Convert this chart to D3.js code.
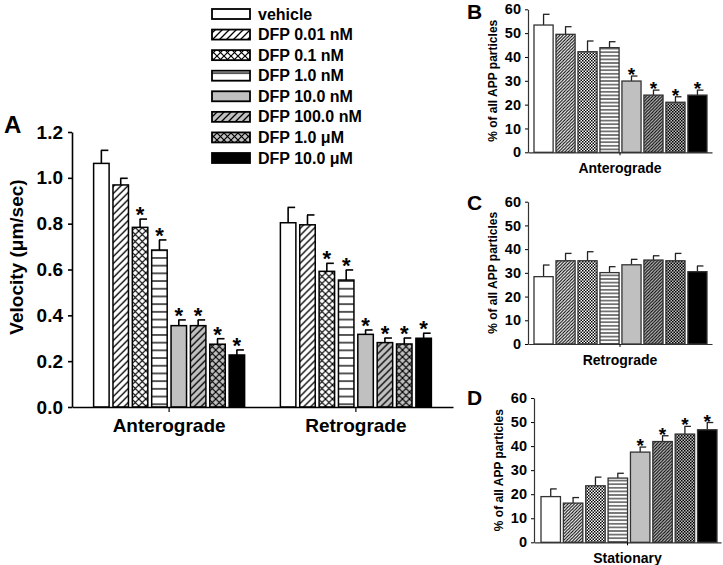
<!DOCTYPE html>
<html><head><meta charset="utf-8">
<script src="https://cdn.jsdelivr.net/npm/d3@7"></script>
<style>body{margin:0;background:#fff}svg{display:block}text{font-family:Arial,"Liberation Sans",sans-serif;font-weight:bold}</style>
</head><body><svg id="c" width="723" height="565"></svg>
<script>
const conditions = ["vehicle","DFP 0.01 nM","DFP 0.1 nM","DFP 1.0 nM","DFP 10.0 nM","DFP 100.0 nM","DFP 1.0 \u03bcM","DFP 10.0 \u03bcM"];
const groupsA = ["Anterograde","Retrograde"];
const velAntero = [1.063,0.969,0.784,0.685,0.355,0.355,0.274,0.227];
const velAnteroErr = [0.057,0.029,0.036,0.044,0.025,0.025,0.024,0.022];
const velRetro = [0.804,0.795,0.592,0.554,0.317,0.281,0.275,0.300];
const velRetroErr = [0.067,0.043,0.035,0.044,0.019,0.020,0.026,0.022];
const sigAntero = [0,0,1,1,1,1,1,1];
const sigRetro = [0,0,1,1,1,1,1,1];
const ticksA = [0,0.2,0.4,0.6,0.8,1.0,1.2];
const pctAntero = [53.4,49.5,42.2,43.9,29.9,24.0,21.0,24.0];
const pctAnteroErr = [4.5,3.2,4.5,2.5,2.1,2.1,2.3,2.1];
const sigB = [0,0,0,0,1,1,1,1];
const pctRetro = [28.4,35.1,35.1,30.1,33.4,35.4,35.1,30.5];
const pctRetroErr = [4.9,3.1,3.8,2.5,2.3,1.8,3.1,2.4];
const sigC = [0,0,0,0,0,0,0,0];
const pctStat = [19.0,16.3,23.5,26.7,37.5,41.9,45.0,46.8];
const pctStatErr = [3.2,2.3,3.6,2.0,2.1,2.4,3.2,3.0];
const sigD = [0,0,0,0,1,1,1,1];
const ticksPct = [0,10,20,30,40,50,60];

const svg = d3.select("#c");
const defs = svg.append("defs");
const GRAY = "#c0c0c0";

function pat(id, size, bg, draw){
  const p = defs.append("pattern").attr("id",id).attr("patternUnits","userSpaceOnUse")
    .attr("width",size).attr("height",size);
  p.append("rect").attr("width",size).attr("height",size).attr("fill",bg);
  draw(p, size);
}
function diag(p,s,w){ p.append("path").attr("d",`M0,${s} L${s},0 M${-s/2},${s/2} L${s/2},${-s/2} M${s/2},${s*1.5} L${s*1.5},${s/2}`).attr("stroke","#000").attr("stroke-width",w); }
function cross(p,s,w){ p.append("path").attr("d",`M0,${s} L${s},0 M0,0 L${s},${s}`).attr("stroke","#000").attr("stroke-width",w); }
function horiz(p,s,w){ p.append("path").attr("d",`M0,${s/2} L${s},${s/2}`).attr("stroke","#000").attr("stroke-width",w); }
function dots(p,s){ p.append("rect").attr("x",0).attr("y",0).attr("width",s/2).attr("height",s/2).attr("fill","#000");
  p.append("rect").attr("x",s/2).attr("y",s/2).attr("width",s/2).attr("height",s/2).attr("fill","#000"); }

pat("Ldiag",7,"#fff",(p,s)=>diag(p,s,1.3));
pat("Lcross",7,"#fff",(p,s)=>cross(p,s,1.2));
pat("Lhoriz",7.7,"#fff",(p,s)=>horiz(p,s,1.3));
pat("LdiagG",7,GRAY,(p,s)=>diag(p,s,1.3));
pat("LcrossG",7,GRAY,(p,s)=>cross(p,s,1.2));
pat("Sdiag",3.2,"#fff",(p,s)=>diag(p,s,1));
pat("Sdots",3,"#fff",(p,s)=>dots(p,s));
pat("Shoriz",3.6,"#fff",(p,s)=>horiz(p,s,1));
pat("SdiagG",3.2,GRAY,(p,s)=>diag(p,s,1));
pat("SdotsG",3,GRAY,(p,s)=>dots(p,s));

const fillsL = ["#fff","url(#Ldiag)","url(#Lcross)","url(#Lhoriz)",GRAY,"url(#LdiagG)","url(#LcrossG)","#000"];
const fillsS = ["#fff","url(#Sdiag)","url(#Sdots)","url(#Shoriz)",GRAY,"url(#SdiagG)","url(#SdotsG)","#000"];

// ---------- Panel A ----------
const yA = d3.scaleLinear().domain([0,1.2]).range([407,132]);
const gx = d3.scaleBand().domain(groupsA).range([72,453]).paddingOuter(0.02).paddingInner(0);
const bw = gx.bandwidth();
const xin = d3.scaleBand().domain(conditions).range([(bw-151)/2,(bw+151)/2]).paddingInner(0.2);
const gA = svg.append("g");
const dataA = [
  {g:"Anterograde", v:velAntero, e:velAnteroErr, s:sigAntero},
  {g:"Retrograde", v:velRetro, e:velRetroErr, s:sigRetro}
];
dataA.forEach(d=>{
  const gg = gA.append("g").attr("transform",`translate(${gx(d.g)},0)`);
  conditions.forEach((c,i)=>{
    const x0 = xin(c), w = xin.bandwidth(), cx = x0+w/2;
    const top = yA(d.v[i]), et = yA(d.v[i]+d.e[i]);
    gg.append("line").attr("x1",cx).attr("x2",cx).attr("y1",top).attr("y2",et).attr("stroke","#000").attr("stroke-width",1.6);
    gg.append("line").attr("x1",cx-0.5).attr("x2",cx+7).attr("y1",et).attr("y2",et).attr("stroke","#000").attr("stroke-width",1.6);
    gg.append("rect").attr("x",x0).attr("y",top).attr("width",w).attr("height",yA(0)-top)
      .attr("fill",fillsL[i]).attr("stroke","#000").attr("stroke-width",1.5);
    if(d.s[i]) gg.append("text").attr("x",cx).attr("y",et+3).attr("text-anchor","middle").attr("font-size",22).text("*");
  });
});
const axA = gA.append("g").attr("transform","translate(72,0)")
  .call(d3.axisLeft(yA).tickValues(ticksA).tickFormat(d3.format(".1f")).tickSize(4).tickSizeOuter(0));
axA.select(".domain").attr("stroke-width",1.6);
axA.selectAll(".tick line").attr("stroke-width",1.6);
axA.selectAll("text").attr("font-size",19).attr("x",-9).style("font-family","Arial, 'Liberation Sans', sans-serif").style("font-weight","bold").attr("fill","#000");
const axAx = gA.append("g").attr("transform",`translate(0,${yA(0)})`)
  .call(d3.axisBottom(gx).tickSize(5).tickSizeOuter(0).tickFormat(""));
axAx.select(".domain").attr("stroke-width",1.6);
axAx.selectAll(".tick line").attr("stroke-width",1.2);
groupsA.forEach(g=>{
  gA.append("text").attr("x",gx(g)+bw/2).attr("y",432).attr("text-anchor","middle").attr("font-size",19).text(g);
});
gA.append("text").attr("transform","translate(23,257) rotate(-90)").attr("text-anchor","middle").attr("font-size",19).text("Velocity (\u03bcm/sec)");
gA.append("text").attr("x",4).attr("y",133).attr("font-size",24).text("A");

// ---------- Legend ----------
const leg = svg.append("g");
const ly = d3.scalePoint().domain(conditions).range([14,158]);
conditions.forEach((c,i)=>{
  leg.append("rect").attr("x",212).attr("y",ly(c)-5).attr("width",38).attr("height",10)
    .attr("fill",fillsL[i]).attr("stroke","#000").attr("stroke-width",1.8);
  leg.append("text").attr("x",258).attr("y",ly(c)+5.5).attr("font-size",16).text(c);
});

// ---------- Panels B, C, D ----------
function small(cfg){
  const y = d3.scaleLinear().domain([0,60]).range([cfg.y0,cfg.y60]);
  const xg = d3.scaleBand().domain([cfg.label]).range([cfg.ax0,cfg.ax1]);
  const xb = d3.scaleBand().domain(conditions).range([cfg.b0,cfg.b1]).paddingInner(0.13);
  const g = svg.append("g");
  conditions.forEach((c,i)=>{
    const x0 = xb(c), w = xb.bandwidth(), cx = x0+w/2;
    const top = y(cfg.v[i]), et = y(cfg.v[i]+cfg.e[i]);
    g.append("line").attr("x1",cx).attr("x2",cx).attr("y1",top).attr("y2",et).attr("stroke","#222").attr("stroke-width",1.3);
    g.append("line").attr("x1",cx-0.5).attr("x2",cx+6).attr("y1",et).attr("y2",et).attr("stroke","#222").attr("stroke-width",1.3);
    g.append("rect").attr("x",x0).attr("y",top).attr("width",w).attr("height",y(0)-top)
      .attr("fill",fillsS[i]).attr("stroke","#333").attr("stroke-width",1.3);
    if(cfg.s[i]) g.append("text").attr("x",cx).attr("y",et+5).attr("text-anchor","middle").attr("font-size",19).text("*");
  });
  const ay = g.append("g").attr("transform",`translate(${cfg.ax0},0)`)
    .call(d3.axisLeft(y).tickValues(ticksPct).tickSize(3).tickSizeOuter(0));
  ay.select(".domain").attr("stroke","#333").attr("stroke-width",1.2);
  ay.selectAll("text").attr("font-size",14.5).attr("x",-7).style("font-family","Arial, 'Liberation Sans', sans-serif").style("font-weight","bold").attr("fill","#000");
  const ax = g.append("g").attr("transform",`translate(0,${cfg.y0})`)
    .call(d3.axisBottom(xg).tickSize(3).tickSizeOuter(0).tickFormat(""));
  ax.select(".domain").attr("stroke","#333").attr("stroke-width",1.2);
  g.append("text").attr("x",xg(cfg.label)+xg.bandwidth()/2).attr("y",cfg.lbl).attr("text-anchor","middle").attr("font-size",14).text(cfg.label);
  g.append("text").attr("transform",`translate(${cfg.ylx},${(cfg.y0+cfg.y60)/2}) rotate(-90)`).attr("text-anchor","middle").attr("font-size",12).text("% of all APP particles");
  g.append("text").attr("x",467).attr("y",cfg.letY).attr("font-size",21).text(cfg.letter);
}
small({label:"Anterograde",v:pctAntero,e:pctAnteroErr,s:sigB,y0:152.3,y60:9.3,ax0:528,ax1:712,b0:534,b1:707,lbl:173,ylx:497,letter:"B",letY:19});
small({label:"Retrograde",v:pctRetro,e:pctRetroErr,s:sigC,y0:344,y60:201.7,ax0:528,ax1:712,b0:534,b1:707,lbl:365,ylx:497,letter:"C",letY:210});
small({label:"Stationary",v:pctStat,e:pctStatErr,s:sigD,y0:542.3,y60:398,ax0:534,ax1:721,b0:541,b1:717,lbl:563,ylx:503,letter:"D",letY:405});
</script></body></html>
